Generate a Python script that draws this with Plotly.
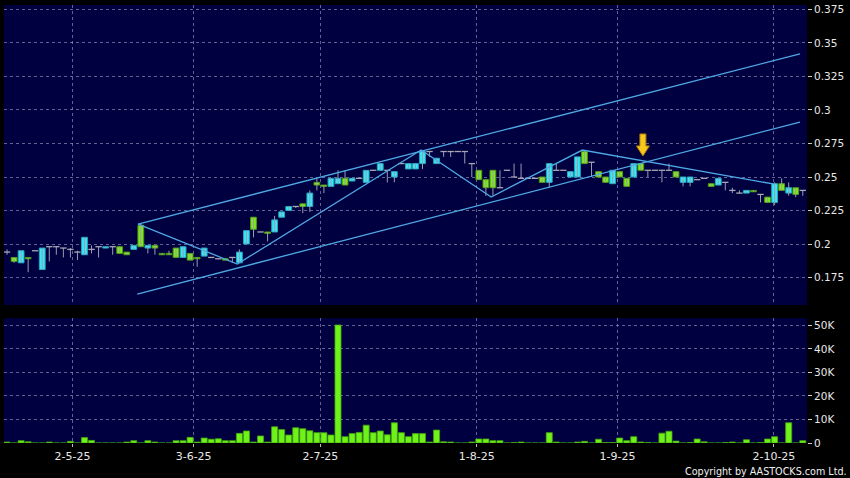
import numpy as np
import plotly.graph_objects as go
from plotly.subplots import make_subplots

# ---- data (index = trading-day position) ----
opens = [0.194, 0.190, 0.186, 0.190, 0.195, 0.181, 0.198, 0.198, 0.197, 0.196,
         0.194, 0.192, 0.196, 0.198, 0.197, 0.198, 0.198, 0.194, 0.196, 0.214,
         0.197, 0.199, 0.193, 0.193, 0.197, 0.190, 0.193, 0.190, 0.191, 0.190,
         0.189, 0.189, 0.190, 0.186, 0.200, 0.220, 0.209, 0.209, 0.209, 0.220,
         0.225, 0.228, 0.230, 0.228, 0.246, 0.244, 0.243, 0.245, 0.249, 0.247,
         0.249, 0.246, 0.255, 0.255, 0.255, 0.250, 0.260, 0.256, 0.256, 0.260,
         0.269, 0.260, 0.269, 0.269, 0.269, 0.269, 0.260, 0.255, 0.248, 0.255,
         0.242, 0.255, 0.250, 0.249, 0.249, 0.249, 0.250, 0.246, 0.255, 0.255,
         0.250, 0.250, 0.269, 0.261, 0.254, 0.250, 0.245, 0.254, 0.249, 0.250,
         0.260, 0.255, 0.255, 0.255, 0.255, 0.254, 0.246, 0.246, 0.248, 0.249,
         0.245, 0.244, 0.246, 0.240, 0.238, 0.238, 0.240, 0.237, 0.235, 0.231,
         0.245, 0.238, 0.242, 0.240]
highs = [0.196, 0.190, 0.195, 0.190, 0.195, 0.197, 0.198, 0.198, 0.197, 0.197,
         0.195, 0.205, 0.199, 0.198, 0.198, 0.198, 0.198, 0.194, 0.199, 0.215,
         0.199, 0.199, 0.193, 0.195, 0.197, 0.198, 0.193, 0.190, 0.197, 0.190,
         0.189, 0.189, 0.190, 0.196, 0.210, 0.220, 0.209, 0.209, 0.221, 0.224,
         0.228, 0.228, 0.230, 0.240, 0.249, 0.244, 0.249, 0.255, 0.255, 0.249,
         0.249, 0.255, 0.255, 0.260, 0.255, 0.254, 0.260, 0.260, 0.260, 0.270,
         0.269, 0.264, 0.269, 0.269, 0.269, 0.269, 0.260, 0.255, 0.248, 0.255,
         0.255, 0.255, 0.260, 0.260, 0.249, 0.249, 0.250, 0.260, 0.260, 0.255,
         0.254, 0.265, 0.270, 0.261, 0.254, 0.250, 0.255, 0.254, 0.249, 0.260,
         0.260, 0.255, 0.255, 0.255, 0.260, 0.254, 0.250, 0.250, 0.248, 0.249,
         0.245, 0.249, 0.246, 0.242, 0.240, 0.240, 0.240, 0.237, 0.235, 0.246,
         0.249, 0.246, 0.242, 0.240]
lows = [0.192, 0.186, 0.186, 0.179, 0.195, 0.181, 0.187, 0.192, 0.190, 0.190,
        0.188, 0.192, 0.193, 0.190, 0.197, 0.192, 0.193, 0.192, 0.196, 0.198,
        0.193, 0.192, 0.192, 0.192, 0.190, 0.190, 0.188, 0.183, 0.191, 0.190,
        0.189, 0.188, 0.186, 0.186, 0.200, 0.205, 0.209, 0.202, 0.209, 0.220,
        0.225, 0.227, 0.223, 0.224, 0.240, 0.238, 0.243, 0.245, 0.244, 0.247,
        0.249, 0.246, 0.255, 0.255, 0.246, 0.246, 0.260, 0.256, 0.256, 0.256,
        0.265, 0.260, 0.265, 0.265, 0.269, 0.260, 0.250, 0.248, 0.236, 0.236,
        0.242, 0.255, 0.250, 0.249, 0.249, 0.249, 0.246, 0.242, 0.255, 0.255,
        0.250, 0.250, 0.260, 0.250, 0.250, 0.246, 0.245, 0.250, 0.243, 0.250,
        0.255, 0.250, 0.255, 0.246, 0.255, 0.250, 0.243, 0.243, 0.248, 0.249,
        0.243, 0.244, 0.240, 0.238, 0.238, 0.238, 0.239, 0.231, 0.231, 0.229,
        0.240, 0.236, 0.235, 0.236]
closes = [0.194, 0.187, 0.195, 0.189, 0.195, 0.197, 0.198, 0.198, 0.197, 0.196,
          0.194, 0.205, 0.196, 0.198, 0.198, 0.198, 0.193, 0.192, 0.199, 0.198,
          0.199, 0.197, 0.192, 0.192, 0.190, 0.198, 0.188, 0.189, 0.197, 0.190,
          0.189, 0.188, 0.190, 0.194, 0.210, 0.211, 0.209, 0.208, 0.218, 0.224,
          0.228, 0.228, 0.228, 0.238, 0.244, 0.243, 0.249, 0.249, 0.244, 0.249,
          0.249, 0.255, 0.255, 0.260, 0.255, 0.254, 0.260, 0.260, 0.260, 0.269,
          0.269, 0.264, 0.269, 0.269, 0.269, 0.269, 0.260, 0.248, 0.242, 0.242,
          0.242, 0.255, 0.250, 0.249, 0.249, 0.249, 0.246, 0.260, 0.255, 0.255,
          0.254, 0.265, 0.260, 0.261, 0.250, 0.246, 0.255, 0.250, 0.243, 0.260,
          0.255, 0.255, 0.255, 0.255, 0.255, 0.250, 0.250, 0.250, 0.248, 0.249,
          0.243, 0.249, 0.246, 0.240, 0.238, 0.240, 0.239, 0.237, 0.231, 0.245,
          0.240, 0.242, 0.237, 0.240]
volumes = [400, 0, 1000, 500, 0, 0, 400, 0, 0, 700,
           0, 2300, 1100, 0, 0, 0, 0, 400, 1000, 0,
           1000, 400, 0, 0, 1000, 1000, 2400, 400, 2100, 1600,
           1800, 1000, 1000, 4100, 5100, 400, 3000, 400, 6900, 5700,
           3400, 6500, 6100, 5200, 4400, 4400, 3400, 50200, 2700, 4000,
           4500, 7600, 4400, 5100, 3500, 8600, 4400, 2700, 4000, 4000,
           400, 5500, 500, 400, 0, 0, 400, 1700, 1700, 1000,
           1000, 0, 200, 400, 0, 0, 0, 4400, 400, 0,
           0, 400, 700, 0, 1600, 200, 200, 2100, 1000, 2700,
           400, 200, 0, 4200, 5000, 800, 0, 200, 1700, 500,
           0, 0, 200, 400, 0, 1400, 0, 200, 1700, 2700,
           0, 8600, 0, 1000]

date_tick_pos = [9.3, 26.5, 44.5, 66.7, 86.7, 108.9]
date_tick_text = ["2-5-25", "3-6-25", "2-7-25", "1-8-25", "1-9-25", "2-10-25"]
price_ticks = [0.175, 0.2, 0.225, 0.25, 0.275, 0.3, 0.325, 0.35, 0.375]
price_tick_text = ["0.175", "0.2", "0.225", "0.25", "0.275", "0.3", "0.325", "0.35", "0.375"]
vol_ticks = [0, 10000, 20000, 30000, 40000, 50000]
vol_tick_text = ["0", "10K", "20K", "30K", "40K", "50K"]

# trend lines drawn on the chart (index, price)
upper_x = [18.6, 112.6]
upper_y = [0.2149, 0.3418]
lower_x = [18.5, 112.6]
lower_y = [0.1627, 0.2910]
zig_x = [18.6, 32.7, 58.8, 68.75, 81.7, 108.8]
zig_y = [0.2149, 0.1851, 0.2701, 0.2351, 0.2701, 0.2448]

arrow_x = 90.3
arrow_tip = 0.2657

# ---- styling ----
X_RANGE = [-0.43, 113.6]
P_RANGE = [0.1545, 0.3783]
V_RANGE = [0, 53100]
BG = "#000040"
GRID = "rgba(150,150,190,0.65)"
CYAN, CYAN_EDGE = "#3CE6F4", "#1FA9C4"
GREEN, GREEN_EDGE = "#80E81E", "#4E9A10"
GRAY = "#A8A8B4"
WICK = "#9A9CAC"
FONT = "DejaVu Sans"
BODY_W = 0.82
DOJI_HALF = 0.45

o = np.array(opens); h = np.array(highs); l = np.array(lows); c = np.array(closes)
idx = np.arange(len(opens))
up = c > o
dn = c < o
flat = c == o

fig = make_subplots(rows=2, cols=1, shared_xaxes=True, vertical_spacing=0.03)

# wicks (high-low)
wx, wy = [], []
for i in idx:
    wx += [i, i, None]
    wy += [l[i], h[i], None]
fig.add_trace(go.Scatter(x=wx, y=wy, mode="lines", line=dict(color=WICK, width=1),
                         showlegend=False, hoverinfo="skip"), row=1, col=1)

# doji marks (open == close)
dx, dy = [], []
for i in idx[flat]:
    dx += [i - DOJI_HALF, i + DOJI_HALF, None]
    dy += [o[i], o[i], None]
fig.add_trace(go.Scatter(x=dx, y=dy, mode="lines", line=dict(color=GRAY, width=1.3),
                         showlegend=False, hoverinfo="skip"), row=1, col=1)

# bodies
for mask, fill, edge in [(up, CYAN, CYAN_EDGE), (dn, GREEN, GREEN_EDGE)]:
    fig.add_trace(go.Bar(x=idx[mask], y=np.abs(c - o)[mask], base=np.minimum(o, c)[mask],
                         width=BODY_W, marker=dict(color=fill, line=dict(color=edge, width=1)),
                         showlegend=False, hoverinfo="skip"), row=1, col=1)

line_style = dict(color="#4FA8E4", width=1.3)
for xs, ys in [(upper_x, upper_y), (lower_x, lower_y), (zig_x, zig_y)]:
    fig.add_trace(go.Scatter(x=xs, y=ys, mode="lines", line=line_style,
                             showlegend=False, hoverinfo="skip"), row=1, col=1)

fig.add_trace(go.Bar(x=idx, y=volumes, width=0.86,
                     marker=dict(color="#6EF21A", line=dict(color="#45A50C", width=0.8)),
                     showlegend=False, hoverinfo="skip"), row=2, col=1)

# block arrow as a path shape (sizes in pixels converted to data units)
plot_w = 850 - 4 - 43
plot_h_top = 300
dxp = (X_RANGE[1] - X_RANGE[0]) / plot_w
dyp = (P_RANGE[1] - P_RANGE[0]) / plot_h_top
pts = [(-3, 22), (3, 22), (3, 10), (6.5, 10), (0, 0), (-6.5, 10), (-3, 10)]
path = "M " + " L ".join(f"{arrow_x + px * dxp},{arrow_tip + py * dyp}" for px, py in pts) + " Z"
fig.add_shape(type="path", path=path, xref="x", yref="y",
              fillcolor="#F7C81E", line=dict(color="#B27C05", width=1))

axis_font = dict(family=FONT, size=11, color="#E8E8E8")
fig.update_xaxes(range=X_RANGE, showgrid=True, gridcolor=GRID, griddash="dot", gridwidth=1,
                 zeroline=False, showline=False, tickvals=date_tick_pos, ticktext=date_tick_text)
fig.update_xaxes(showticklabels=False, ticks="", row=1, col=1)
fig.update_xaxes(showticklabels=True, ticks="outside", ticklen=3, tickcolor="#BBBBBB",
                 tickfont=axis_font, row=2, col=1)

fig.update_yaxes(side="right", showgrid=True, gridcolor=GRID, griddash="dot", gridwidth=1,
                 zeroline=False, showline=False, ticks="outside", ticklen=4, tickcolor="#CCCCCC",
                 tickfont=dict(family=FONT, size=10.5, color="#E8E8E8"))
fig.update_yaxes(range=P_RANGE, tickvals=price_ticks, ticktext=price_tick_text,
                 domain=[0.315, 1.0], row=1, col=1)
fig.update_yaxes(range=V_RANGE, tickvals=vol_ticks, ticktext=vol_tick_text,
                 domain=[0.0, 0.285], row=2, col=1)

fig.add_annotation(text="Copyright by AASTOCKS.com Ltd.", xref="paper", yref="paper",
                   x=1.0523, y=-0.066, xanchor="right", yanchor="middle", showarrow=False,
                   font=dict(family=FONT, size=9.6, color="#F0F0F0"))

fig.update_layout(width=850, height=478, margin=dict(l=4, r=43, t=5, b=35),
                  paper_bgcolor="#000000", plot_bgcolor=BG, barmode="overlay",
                  showlegend=False, hovermode=False)

fig.write_html("out.html", config={"displayModeBar": False, "staticPlot": True},
               post_script="document.body.style.margin='0';"
                           "document.body.style.overflow='hidden';"
                           "document.body.style.background='#000';")
